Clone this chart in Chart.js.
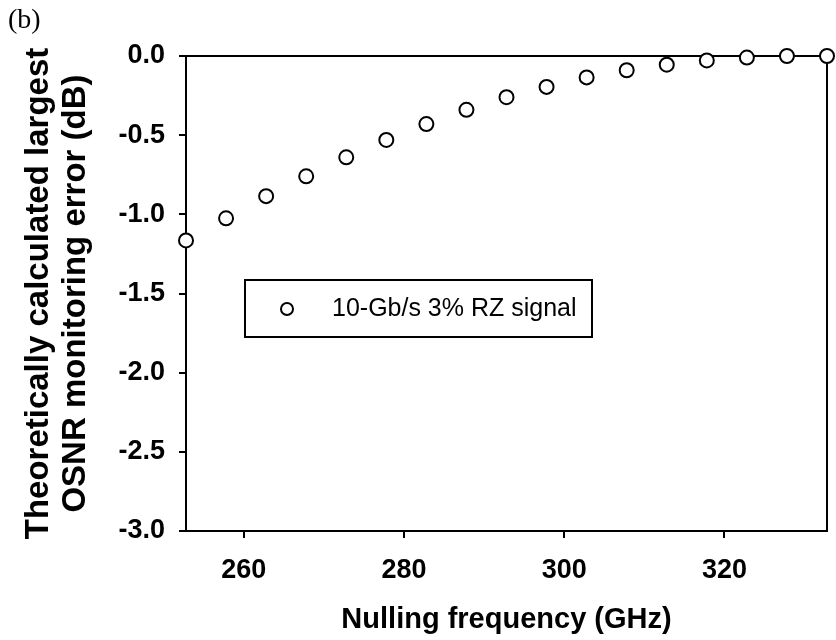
<!DOCTYPE html>
<html>
<head>
<meta charset="utf-8">
<script src="https://cdn.jsdelivr.net/npm/chart.js@4"></script>
<style>
  html, body { margin: 0; padding: 0; background: #fff; }
  #wrap { width: 836px; height: 640px; }
</style>
</head>
<body>
<div id="wrap"><canvas id="chart_osnr" width="836" height="640"></canvas></div>
<script>
// ----------------------------------------------------------------------
//  data
// ----------------------------------------------------------------------
var freqGHz = [252.8, 257.8, 262.8, 267.8, 272.8, 277.8, 282.8, 287.8, 292.8,
               297.8, 302.8, 307.8, 312.8, 317.8, 322.8, 327.8, 332.8];
var errorDB = [-1.165, -1.025, -0.885, -0.76, -0.64, -0.53, -0.43, -0.34, -0.26,
               -0.195, -0.135, -0.09, -0.055, -0.028, -0.01, 0, 0];
var xTickVals = [260, 280, 300, 320];
var seriesLabel = '10-Gb/s 3% RZ signal';

var FONT = '"Liberation Sans", Arial, sans-serif';

// ----------------------------------------------------------------------
//  frame + panel label + inset legend
// ----------------------------------------------------------------------
var framePlugin = {
	id: 'frame',
	beforeDatasetsDraw: function(chart){
		var a = chart.chartArea, ctx = chart.ctx;
		ctx.save();
		ctx.strokeStyle = '#000';
		ctx.lineWidth = 2;
		ctx.beginPath();
		ctx.moveTo(a.left, a.top);
		ctx.lineTo(a.right, a.top);
		ctx.lineTo(a.right, a.bottom);
		ctx.stroke();
		ctx.restore();
	},
	afterDraw: function(chart){
		var a = chart.chartArea, ctx = chart.ctx;
		ctx.save();
		// panel label
		ctx.fillStyle = '#000';
		ctx.font = '28px "Liberation Serif", "Times New Roman", serif';
		ctx.textBaseline = 'middle';
		ctx.textAlign = 'left';
		ctx.fillText('(b)', 8, 21);
		// legend box inside the plot
		var bx = a.left + 59, by = a.top + 224, bw = 347, bh = 57;
		ctx.lineWidth = 2;
		ctx.strokeStyle = '#000';
		ctx.fillStyle = '#fff';
		ctx.fillRect(bx, by, bw, bh);
		ctx.strokeRect(bx, by, bw, bh);
		var ds = chart.data.datasets[0];
		ctx.beginPath();
		ctx.arc(bx + 42, by + 29, 6, 0, Math.PI * 2);
		ctx.fillStyle = '#fff';
		ctx.fill();
		ctx.lineWidth = 2;
		ctx.stroke();
		ctx.fillStyle = '#000';
		ctx.font = '25px ' + FONT;
		ctx.fillText(ds.label, bx + 87, by + 29);
		ctx.restore();
	}
};

// ----------------------------------------------------------------------
//  scatter
// ----------------------------------------------------------------------
var drawGraph = function(){
	var ctx = document.getElementById('chart_osnr').getContext('2d');
	var points = freqGHz.map(function(f, i){ return {x: f, y: errorDB[i]}; });
	var config = {
		type: 'scatter',
		data: {
			datasets: [{
				label: seriesLabel,
				data: points,
				pointStyle: 'circle',
				pointRadius: 7,
				pointBorderWidth: 2,
				pointBorderColor: '#000',
				pointBackgroundColor: '#fff',
				showLine: false,
				clip: false
			}]
		},
		options: {
			responsive: false,
			animation: false,
			events: [],
			layout: { padding: { top: 56, right: 3, left: 0, bottom: 0 } },
			plugins: { legend: { display: false }, tooltip: { enabled: false } },
			scales: {
				x: {
					type: 'linear',
					min: 252.8,
					max: 332.8,
					afterBuildTicks: function(s){ s.ticks = xTickVals.map(function(v){ return {value: v}; }); },
					afterFit: function(s){ s.height = 109; },
					border: { display: true, color: '#000', width: 2 },
					grid: { drawOnChartArea: false, drawTicks: true, tickLength: 7, color: '#000', lineWidth: 2 },
					ticks: {
						color: '#000', padding: 16, maxRotation: 0,
						font: { family: FONT, size: 27, weight: 'bold' },
						callback: function(v){ return v; }
					},
					title: {
						display: true, text: 'Nulling frequency (GHz)', color: '#000',
						font: { family: FONT, size: 29, weight: 'bold' },
						padding: { top: 0, bottom: 3 }
					}
				},
				y: {
					min: -3,
					max: 0,
					afterFit: function(s){ s.width = 186; },
					border: { display: true, color: '#000', width: 2 },
					grid: { drawOnChartArea: false, drawTicks: true, tickLength: 7, color: '#000', lineWidth: 2 },
					ticks: {
						stepSize: 0.5, color: '#000', padding: 14,
						font: { family: FONT, size: 27, weight: 'bold' },
						callback: function(v){ return v.toFixed(1); }
					},
					title: {
						display: true,
						text: ['Theoretically calculated largest', 'OSNR monitoring error (dB)'],
						color: '#000',
						font: { family: FONT, size: 33, weight: 'bold', lineHeight: 1.12 },
						padding: { top: 20, bottom: 0 }
					}
				}
			}
		},
		plugins: [framePlugin]
	};
	var myChart = new Chart(ctx, config);
};
window.onload = function(){
	drawGraph();
};
</script>
</body>
</html>
